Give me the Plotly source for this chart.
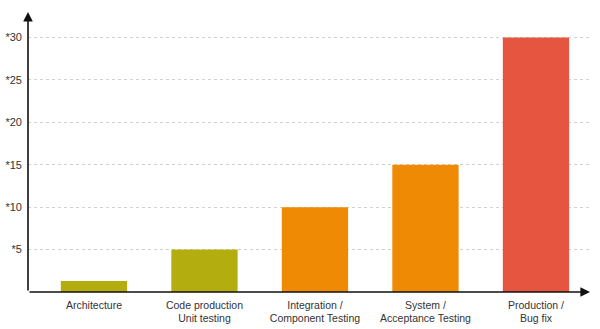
import plotly.graph_objects as go

categories = ["Architecture", "Code production<br>Unit testing", "Integration /<br>Component Testing",
              "System /<br>Acceptance Testing", "Production /<br>Bug fix"]
values = [1.3, 5, 10, 15, 30]
colors = ["#b3ad0f", "#b3ad0f", "#ef8a05", "#ef8a05", "#e6553f"]
ytick_vals = [5, 10, 15, 20, 25, 30]
ytick_text = ["*5", "*10", "*15", "*20", "*25", "*30"]

xpos = list(range(len(categories)))
x0, x1 = -0.597, 4.489
y0, y1 = 0, 33.0

fig = go.Figure(go.Bar(x=xpos, y=values, marker=dict(color=colors, line=dict(width=0)), width=0.6))

fig.update_layout(
    width=600, height=329,
    margin=dict(l=28, r=10, t=12, b=37),
    paper_bgcolor="white", plot_bgcolor="white",
    showlegend=False,
    font=dict(family="Liberation Sans, Arial, sans-serif", color="#333333"),
    xaxis=dict(range=[x0, x1], tickvals=xpos, ticktext=categories, showgrid=False, automargin=False,
               zeroline=False, showline=False, tickfont=dict(size=10.5), ticks="", ticklabelstandoff=5),
    yaxis=dict(range=[y0, y1], tickvals=ytick_vals, ticktext=ytick_text, showgrid=True, automargin=False,
               gridcolor="#d0d0d0", griddash="dot", gridwidth=1, zeroline=False, showline=False,
               tickfont=dict(size=11), ticks="", ticklabelstandoff=5),
    bargap=0.4,
)

# axis arrows
fig.add_annotation(x=x0, y=y1, ax=x0, ay=y0, xref="x", yref="y", axref="x", ayref="y",
                   showarrow=True, arrowhead=2, arrowsize=1.2, arrowwidth=1.6, arrowcolor="#111", text="")
fig.add_annotation(x=x1, y=y0, ax=x0, ay=y0, xref="x", yref="y", axref="x", ayref="y",
                   showarrow=True, arrowhead=2, arrowsize=1.2, arrowwidth=1.6, arrowcolor="#111", text="")

fig.write_html("out.html")
